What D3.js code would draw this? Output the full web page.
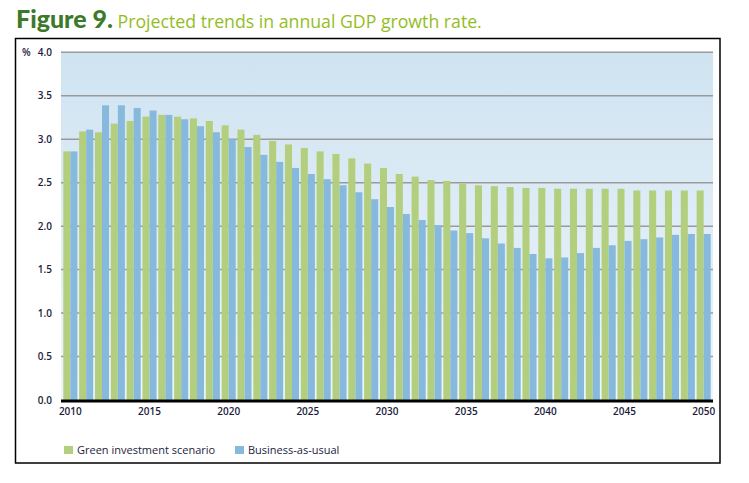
<!DOCTYPE html>
<html>
<head>
<meta charset="utf-8">
<script src="https://cdn.jsdelivr.net/npm/d3@7"></script>
<style>
  html, body { margin: 0; padding: 0; background: #fff; }
  svg { display: block; }
</style>
</head>
<body>
<svg id="chart" width="749" height="483"></svg>
<script>
const years = d3.range(2010, 2051);
const greenInvestment = [2.86, 3.09, 3.08, 3.18, 3.21, 3.26, 3.28, 3.26, 3.24, 3.21,
  3.16, 3.11, 3.05, 2.98, 2.94, 2.90, 2.86, 2.83, 2.78, 2.72,
  2.67, 2.60, 2.57, 2.53, 2.52, 2.49, 2.47, 2.46, 2.45, 2.44,
  2.44, 2.43, 2.43, 2.43, 2.43, 2.43, 2.41, 2.41, 2.41, 2.41, 2.41];
const businessAsUsual = [2.86, 3.11, 3.39, 3.39, 3.36, 3.33, 3.28, 3.23, 3.15, 3.08,
  3.00, 2.91, 2.82, 2.74, 2.67, 2.60, 2.54, 2.47, 2.39, 2.31,
  2.22, 2.14, 2.07, 2.01, 1.95, 1.92, 1.86, 1.80, 1.75, 1.68,
  1.63, 1.64, 1.69, 1.75, 1.78, 1.83, 1.85, 1.87, 1.90, 1.91, 1.91];
const seriesNames = ["Green investment scenario", "Business-as-usual"];
const seriesColors = ["#b3cf7e", "#86b9dc"];
const yTicks = [0, 0.5, 1.0, 1.5, 2.0, 2.5, 3.0, 3.5, 4.0];
const xTickYears = [2010, 2015, 2020, 2025, 2030, 2035, 2040, 2045, 2050];

const svg = d3.select("#chart");
const plot = {left: 61, right: 713, top: 52.3, bottom: 400};

// Title
const title = svg.append("text").attr("x", 16).attr("y", 28);
title.append("tspan").text("Figure 9.")
  .attr("font-family", "Lato, 'DejaVu Sans', sans-serif")
  .attr("font-weight", "900").attr("font-size", 25).attr("fill", "#3c7a2a");
title.append("tspan").text(" Projected trends in annual GDP growth rate.")
  .attr("font-family", "'Open Sans', 'DejaVu Sans', sans-serif")
  .attr("font-size", 17.7).attr("fill", "#93bd1e");

// Frame
svg.append("rect").attr("x", 15.5).attr("y", 38.5).attr("width", 704.5).attr("height", 424.5)
  .attr("fill", "none").attr("stroke", "#000").attr("stroke-width", 1.5);

// Gradient background
const defs = svg.append("defs");
const grad = defs.append("linearGradient").attr("id", "bg").attr("x1", 0).attr("y1", 0).attr("x2", 0).attr("y2", 1);
grad.append("stop").attr("offset", "0%").attr("stop-color", "#cfe3f1");
grad.append("stop").attr("offset", "100%").attr("stop-color", "#eef6fb");

const y = d3.scaleLinear().domain([0, 4]).range([plot.bottom, plot.top]);
const x0 = d3.scaleBand().domain(years).range([62.5, 711.5]).paddingInner(0.11).paddingOuter(0.05);
const x1 = d3.scaleBand().domain([0, 1]).range([0, x0.bandwidth()]);

svg.append("rect").attr("x", plot.left).attr("y", plot.top)
  .attr("width", plot.right - plot.left).attr("height", plot.bottom - plot.top)
  .attr("fill", "url(#bg)");

// Gridlines
svg.append("g").selectAll("line").data(yTicks.filter(d => d > 0)).join("line")
  .attr("x1", plot.left).attr("x2", plot.right)
  .attr("y1", d => y(d)).attr("y2", d => y(d))
  .attr("stroke", "#9a9a9a").attr("stroke-width", 1.5);

// Bars
const series = [greenInvestment, businessAsUsual];
const g = svg.append("g");
series.forEach((vals, si) => {
  g.append("g").selectAll("rect").data(years).join("rect")
    .attr("x", (d) => x0(d) + x1(si))
    .attr("width", x1.bandwidth())
    .attr("y", (d, i) => y(vals[i]))
    .attr("height", (d, i) => y(0) - y(vals[i]))
    .attr("fill", seriesColors[si]);
});

// Y axis
const yAxis = d3.axisLeft(y).tickValues(yTicks).tickFormat(d3.format(".1f")).tickSize(0).tickPadding(9);
const ya = svg.append("g").attr("transform", `translate(${plot.left},0)`).call(yAxis);
ya.select(".domain").remove();
ya.selectAll("text").attr("font-family", "'Open Sans', 'DejaVu Sans', sans-serif")
  .attr("font-size", 10).attr("font-weight", 600).attr("fill", "#1c1c3c");
svg.append("text").attr("x", 22).attr("y", 56).text("%")
  .attr("font-family", "'Open Sans', 'DejaVu Sans', sans-serif")
  .attr("font-size", 10).attr("font-weight", 600).attr("fill", "#1c1c3c");

// X axis
const xAxis = d3.axisBottom(x0).tickValues(xTickYears).tickSize(0).tickPadding(8);
const xa = svg.append("g").attr("transform", `translate(0,${plot.bottom})`).call(xAxis);
xa.select(".domain").remove();
xa.selectAll("text").attr("font-family", "'Open Sans', 'DejaVu Sans', sans-serif")
  .attr("font-size", 10).attr("font-weight", 600).attr("fill", "#1c1c3c");
svg.append("line").attr("x1", plot.left).attr("x2", plot.right)
  .attr("y1", plot.bottom + 1).attr("y2", plot.bottom + 1)
  .attr("stroke", "#000").attr("stroke-width", 3);

// Legend
const legendX = [64, 235];
const lg = svg.append("g");
seriesNames.forEach((name, i) => {
  lg.append("rect").attr("x", legendX[i]).attr("y", 446).attr("width", 9).attr("height", 8).attr("fill", seriesColors[i]);
  lg.append("text").attr("x", legendX[i] + 13).attr("y", 454).text(name)
    .attr("font-family", "'Open Sans', 'DejaVu Sans', sans-serif")
    .attr("font-size", 11).attr("fill", "#1c1c3c");
});
</script>
</body>
</html>
